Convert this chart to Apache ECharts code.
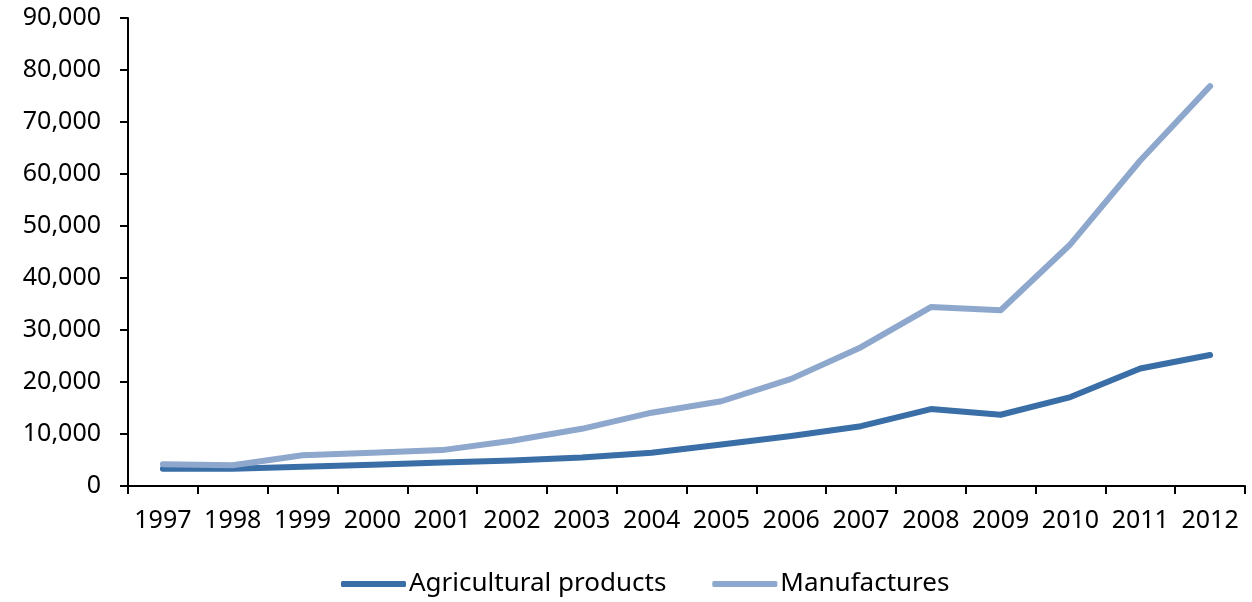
<!DOCTYPE html>
<html>
<head>
<meta charset="utf-8">
<script src="https://cdn.jsdelivr.net/npm/echarts@6/dist/echarts.min.js"></script>
<style>
  html, body { margin: 0; padding: 0; background: #fff; }
  #chart { width: 1252px; height: 602px; }
</style>
</head>
<body>
<div id="chart"></div>
<script>
// data
const years = ['1997', '1998', '1999', '2000', '2001', '2002', '2003', '2004',
  '2005', '2006', '2007', '2008', '2009', '2010', '2011', '2012']
const agricultural = [3300, 3300, 3700, 4100, 4500, 4900, 5500, 6400,
  8000, 9600, 11500, 14800, 13700, 17100, 22600, 25200]
const manufactures = [4200, 4000, 5900, 6400, 6900, 8700, 11000, 14100,
  16300, 20600, 26700, 34400, 33800, 46500, 62600, 76900]

const chart = echarts.init(document.getElementById('chart'))
const font = '"Noto Sans", "Open Sans", sans-serif'

chart.setOption({
  animation: false,
  textStyle: { fontFamily: font, color: '#000' },
  grid: { left: 128, right: 7, top: 18, bottom: 116 },
  legend: {
    bottom: 0,
    left: 336,
    itemWidth: 65,
    itemHeight: 6,
    itemGap: 46,
    icon: 'roundRect',
    textStyle: { fontFamily: font, fontSize: 26, color: '#000', padding: [0, 0, 0, -2] },
    data: ['Agricultural products', 'Manufactures']
  },
  xAxis: {
    type: 'category',
    data: years,
    boundaryGap: true,
    axisLine: { lineStyle: { color: '#000', width: 2 } },
    axisTick: { show: true, length: 8, lineStyle: { color: '#000', width: 2 } },
    axisLabel: { color: '#000', fontSize: 25, margin: 22, interval: 0, fontFamily: font }
  },
  yAxis: {
    type: 'value',
    min: 0,
    max: 90000,
    interval: 10000,
    axisLine: { show: true, lineStyle: { color: '#000', width: 2 } },
    axisTick: { show: true, length: 8, lineStyle: { color: '#000', width: 2 } },
    splitLine: { show: false },
    axisLabel: {
      color: '#000', fontSize: 25, margin: 27, fontFamily: font,
      formatter: v => v.toLocaleString('en-US')
    }
  },
  series: [
    {
      name: 'Agricultural products',
      type: 'line',
      data: agricultural,
      symbol: 'none',
      color: '#3A6EA6',
      lineStyle: { width: 6, cap: 'round', join: 'round', color: '#3A6EA6' }
    },
    {
      name: 'Manufactures',
      type: 'line',
      data: manufactures,
      symbol: 'none',
      color: '#8EA7CC',
      lineStyle: { width: 6, cap: 'round', join: 'round', color: '#8EA7CC' }
    }
  ]
})
</script>
</body>
</html>
